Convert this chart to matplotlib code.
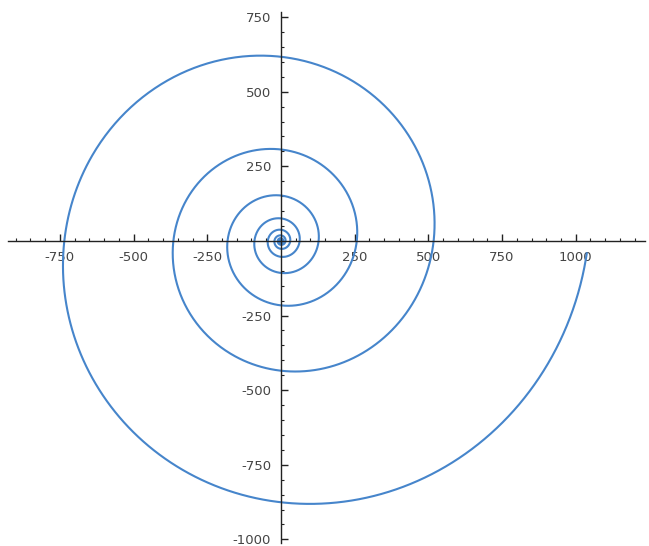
import numpy as np
import matplotlib.pyplot as plt
from matplotlib.ticker import MultipleLocator, FixedLocator

# Radii where the spiral crosses the axes,
# one every quarter turn (counter-clockwise, starting on the +x axis).
crossing_angles = np.arange(8) * np.pi / 2
crossing_radii = [258, 305, 370, 432, 512, 606, 760, 867]

# Spiral runs from deep inside the centre to just below the +x axis.
theta_start = -14 * np.pi
theta_end = 4 * np.pi - 0.04

x_ticks = [-750, -500, -250, 250, 500, 750, 1000]
y_ticks = [-1000, -750, -500, -250, 250, 500, 750]

# Logarithmic spiral fitted to the crossing radii.
b, log_a = np.polyfit(crossing_angles, np.log(crossing_radii), 1)
theta = np.linspace(theta_start, theta_end, 6000)
r = np.exp(log_a + b * theta)

plt.rcParams['axes.unicode_minus'] = False
fig = plt.figure(figsize=(6.49, 5.46), dpi=100)
ax = fig.add_axes([8 / 649, 3 / 546, 637 / 649, 531 / 546])
ax.plot(r * np.cos(theta), r * np.sin(theta), color='#4685cb', lw=1.5)

ax.set_xlim(-926, 1235)
ax.set_ylim(-1012, 767)

# Axes through the origin.
ax.spines['left'].set_position(('data', 0))
ax.spines['bottom'].set_position(('data', 0))
ax.spines['right'].set_visible(False)
ax.spines['top'].set_visible(False)
for s in ('left', 'bottom'):
    ax.spines[s].set_color('#222222')
    ax.spines[s].set_linewidth(1.0)

ax.xaxis.set_major_locator(FixedLocator(x_ticks))
ax.yaxis.set_major_locator(FixedLocator(y_ticks))
ax.xaxis.set_minor_locator(MultipleLocator(50))
ax.yaxis.set_minor_locator(MultipleLocator(50))
ax.tick_params(which='major', direction='in', length=5, width=1, color='#222222',
               labelsize=9.5, labelcolor='#444444', pad=7)
ax.tick_params(which='minor', direction='in', length=2.5, width=0.8, color='#222222')

fig.savefig('out.png', dpi=100)
